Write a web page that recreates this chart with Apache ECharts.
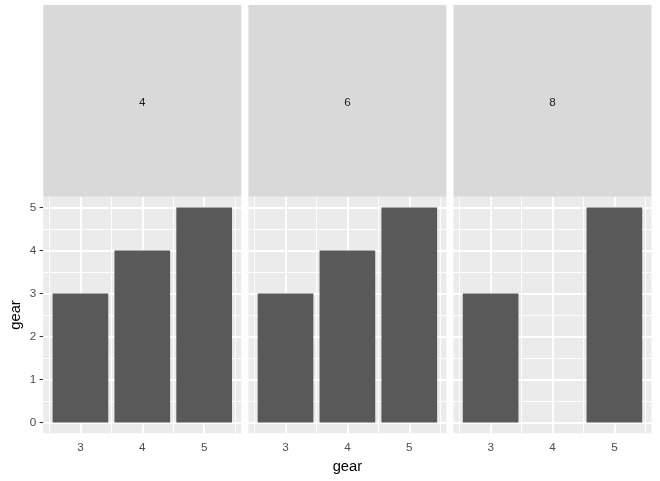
<!DOCTYPE html>
<html>
<head>
<meta charset="utf-8">
<script src="https://cdn.jsdelivr.net/npm/echarts@6/dist/echarts.min.js"></script>
<style>html,body{margin:0;padding:0;background:#fff}#c{width:660px;height:481px}</style>
</head>
<body>
<div id="c"></div>
<script>
// ---- data ----
var facets = ['4', '6', '8'];
var categories = ['3', '4', '5'];
var values4 = [3, 4, 5];
var values6 = [3, 4, 5];
var values8 = [3, null, 5];
var yTicks = [0, 1, 2, 3, 4, 5];
var axisTitle = 'gear';

var facetValues = [values4, values6, values8];

// ---- layout ----
var FONT = 'Liberation Sans, Arial, sans-serif';
var panelLeft = [43.3, 248.4, 453.5];
var panelW = 198;
var panelTop = 196.7;
var panelH = 236.6;
var stripTop = 5;
var xMin = 0.4, xMax = categories.length + 0.6;
var yMin = -0.25, yMax = 5.25;
var barW = panelW / (xMax - xMin) * 0.9;

var catPos = categories.map(function (c, i) { return i + 1; });
var xMinor = [];
for (var i = 0; i <= categories.length; i++) xMinor.push(i + 0.5);
var yMinor = [];
for (var j = 0; j < yTicks.length - 1; j++) yMinor.push((yTicks[j] + yTicks[j + 1]) / 2);

var grids = [], xAxes = [], yAxes = [], series = [], graphics = [];

facets.forEach(function (f, k) {
  grids.push({
    left: panelLeft[k], top: panelTop, width: panelW, height: panelH,
    show: true, backgroundColor: '#EBEBEB', borderWidth: 0, containLabel: false
  });
  xAxes.push({
    type: 'value', gridIndex: k, min: xMin, max: xMax,
    axisLine: { show: false },
    splitLine: { show: false },
    axisTick: { show: true, customValues: catPos, length: 3.7, lineStyle: { color: '#333333', width: 1.07 } },
    axisLabel: {
      show: true, customValues: catPos, margin: 8.5,
      color: '#4D4D4D', fontSize: 11.7, fontFamily: FONT,
      formatter: function (v) { return categories[Math.round(v) - 1]; }
    },
    name: k === 1 ? axisTitle : '',
    nameLocation: 'middle', nameGap: 26.5,
    nameTextStyle: { color: '#000000', fontSize: 14.7, fontFamily: FONT }
  });
  yAxes.push({
    type: 'value', gridIndex: k, min: yMin, max: yMax,
    axisLine: { show: false },
    splitLine: { show: false },
    axisTick: { show: k === 0, customValues: yTicks, length: 3.7, lineStyle: { color: '#333333', width: 1.07 } },
    axisLabel: {
      show: k === 0, customValues: yTicks, margin: 7,
      color: '#4D4D4D', fontSize: 11.7, fontFamily: FONT
    },
    name: k === 0 ? axisTitle : '',
    nameLocation: 'middle', nameGap: 19.5, nameRotate: 90,
    nameTextStyle: { color: '#000000', fontSize: 14.7, fontFamily: FONT }
  });

  var gridLines = [];
  catPos.forEach(function (v) { gridLines.push({ xAxis: v, lineStyle: { width: 1.9 } }); });
  xMinor.forEach(function (v) { gridLines.push({ xAxis: v, lineStyle: { width: 0.95 } }); });
  yTicks.forEach(function (v) { gridLines.push({ yAxis: v, lineStyle: { width: 1.9 } }); });
  yMinor.forEach(function (v) { gridLines.push({ yAxis: v, lineStyle: { width: 0.95 } }); });

  series.push({
    type: 'bar', xAxisIndex: k, yAxisIndex: k, z: 2,
    barWidth: barW,
    itemStyle: { color: '#595959' },
    data: facetValues[k].map(function (v, i) { return [catPos[i], v == null ? '-' : v]; }),
    markLine: {
      z: 1, silent: true, symbol: ['none', 'none'], animation: false,
      label: { show: false },
      lineStyle: { color: '#FFFFFF', type: 'solid' },
      emphasis: { disabled: true },
      data: gridLines
    }
  });

  graphics.push({
    type: 'rect', left: panelLeft[k], top: stripTop,
    shape: { width: panelW, height: panelTop - stripTop },
    style: { fill: '#D9D9D9' },
    textContent: { style: { text: f, fill: '#1A1A1A', fontSize: 11.7, fontFamily: FONT } },
    textConfig: { position: 'inside', offset: [0, 2] },
    silent: true
  });
});

var chart = echarts.init(document.getElementById('c'), null, { renderer: 'canvas' });
chart.setOption({
  animation: false,
  backgroundColor: '#FFFFFF',
  grid: grids,
  xAxis: xAxes,
  yAxis: yAxes,
  series: series,
  graphic: graphics
});
</script>
</body>
</html>
